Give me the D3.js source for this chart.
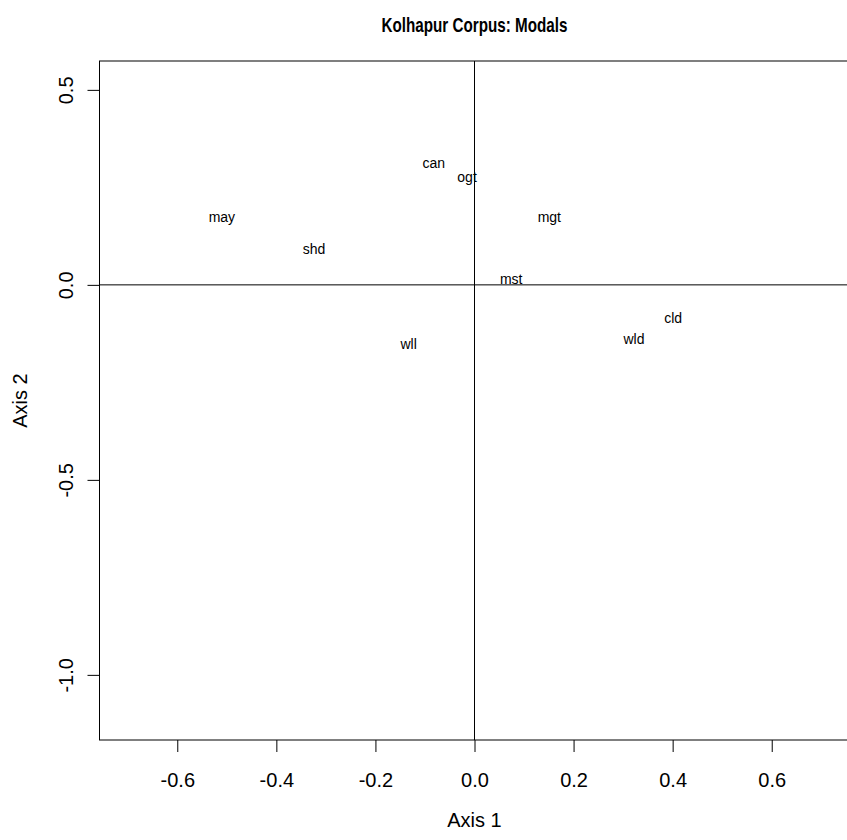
<!DOCTYPE html>
<html>
<head>
<meta charset="utf-8">
<script src="https://cdn.jsdelivr.net/npm/d3@7"></script>
<style>
  body { margin: 0; background: #fff; }
  svg { display: block; font-family: "Liberation Sans", Arial, sans-serif; }
</style>
</head>
<body>
<svg id="chart" width="847" height="840"></svg>
<script>
(function(){
    'use strict';

    // Modal verbs and their coordinates on the two axes
    const labels = ['can', 'ogt', 'may', 'mgt', 'shd', 'mst', 'wll', 'cld', 'wld'];
    const axis1  = [-0.082, -0.015, -0.510, 0.151, -0.324, 0.074, -0.133, 0.401, 0.322];
    const axis2  = [0.313, 0.277, 0.174, 0.174, 0.092, 0.016, -0.151, -0.085, -0.138];

    const xTicks = [-0.6, -0.4, -0.2, 0.0, 0.2, 0.4, 0.6];
    const yTicks = [0.5, 0.0, -0.5, -1.0];

    const width = 847;
    const height = 840;
    const margin = {top: 61, bottom: 100, left: 99.5, right: -2.5};

    const svg = d3.select('#chart');

    const x = d3.scaleLinear()
        .domain([-0.757, 0.757])
        .range([margin.left, width - margin.right]);

    const y = d3.scaleLinear()
        .domain([-1.167, 0.574])
        .range([height - margin.bottom, margin.top]);

    // R prints a plain hyphen, not the unicode minus
    const fmt = d => d3.format('.1f')(d).replace('\u2212', '-');

    // Title
    svg.append('text')
        .attr('x', x(0))
        .attr('y', 32)
        .attr('text-anchor', 'middle')
        .attr('font-size', 21)
        .attr('font-weight', 'bold')
        .attr('textLength', 186)
        .attr('lengthAdjust', 'spacingAndGlyphs')
        .text('Kolhapur Corpus: Modals');

    // Axes
    function xAxis(g){
        g.attr('transform', `translate(0, ${height - margin.bottom})`)
        .call(d3.axisBottom(x).tickValues(xTicks).tickFormat(fmt).tickSize(12).tickPadding(21));
    }

    function yAxis(g){
        g.attr('transform', `translate(${margin.left}, 0)`)
        .call(d3.axisLeft(y).tickValues(yTicks).tickFormat(fmt).tickSize(12));
    }

    const gx = svg.append('g').call(xAxis);
    gx.select('.domain').remove();
    gx.selectAll('text').attr('font-size', 20).attr('fill', '#000').attr('font-family', null);

    const gy = svg.append('g').call(yAxis);
    gy.select('.domain').remove();
    gy.selectAll('text')
        .attr('font-size', 20).attr('fill', '#000').attr('font-family', null)
        .attr('x', null).attr('dy', null)
        .attr('text-anchor', 'middle')
        .attr('transform', 'translate(-27, 0) rotate(-90)');

    // Plot box
    svg.append('rect')
        .attr('x', x.range()[0])
        .attr('y', y.range()[1])
        .attr('width', x.range()[1] - x.range()[0])
        .attr('height', y.range()[0] - y.range()[1])
        .attr('fill', 'none')
        .attr('stroke', '#000');

    // Zero lines
    svg.append('line')
        .attr('x1', x(0)).attr('x2', x(0))
        .attr('y1', y.range()[0]).attr('y2', y.range()[1])
        .attr('stroke', '#000');
    svg.append('line')
        .attr('x1', x.range()[0]).attr('x2', x.range()[1])
        .attr('y1', y(0)).attr('y2', y(0))
        .attr('stroke', '#000');

    // Labels at points
    svg.append('g')
        .selectAll('text')
        .data(labels)
        .enter()
        .append('text')
            .attr('x', (d, i) => x(axis1[i]))
            .attr('y', (d, i) => y(axis2[i]))
            .attr('dy', '0.35em')
            .attr('text-anchor', 'middle')
            .attr('font-size', 14)
            .text(d => d);

    // Axis titles
    svg.append('text')
        .attr('x', x(0))
        .attr('y', 827)
        .attr('text-anchor', 'middle')
        .attr('font-size', 20)
        .text('Axis 1');

    svg.append('text')
        .attr('transform', `translate(27, ${(y.range()[0] + y.range()[1]) / 2}) rotate(-90)`)
        .attr('text-anchor', 'middle')
        .attr('font-size', 20)
        .text('Axis 2');
})();
</script>
</body>
</html>
